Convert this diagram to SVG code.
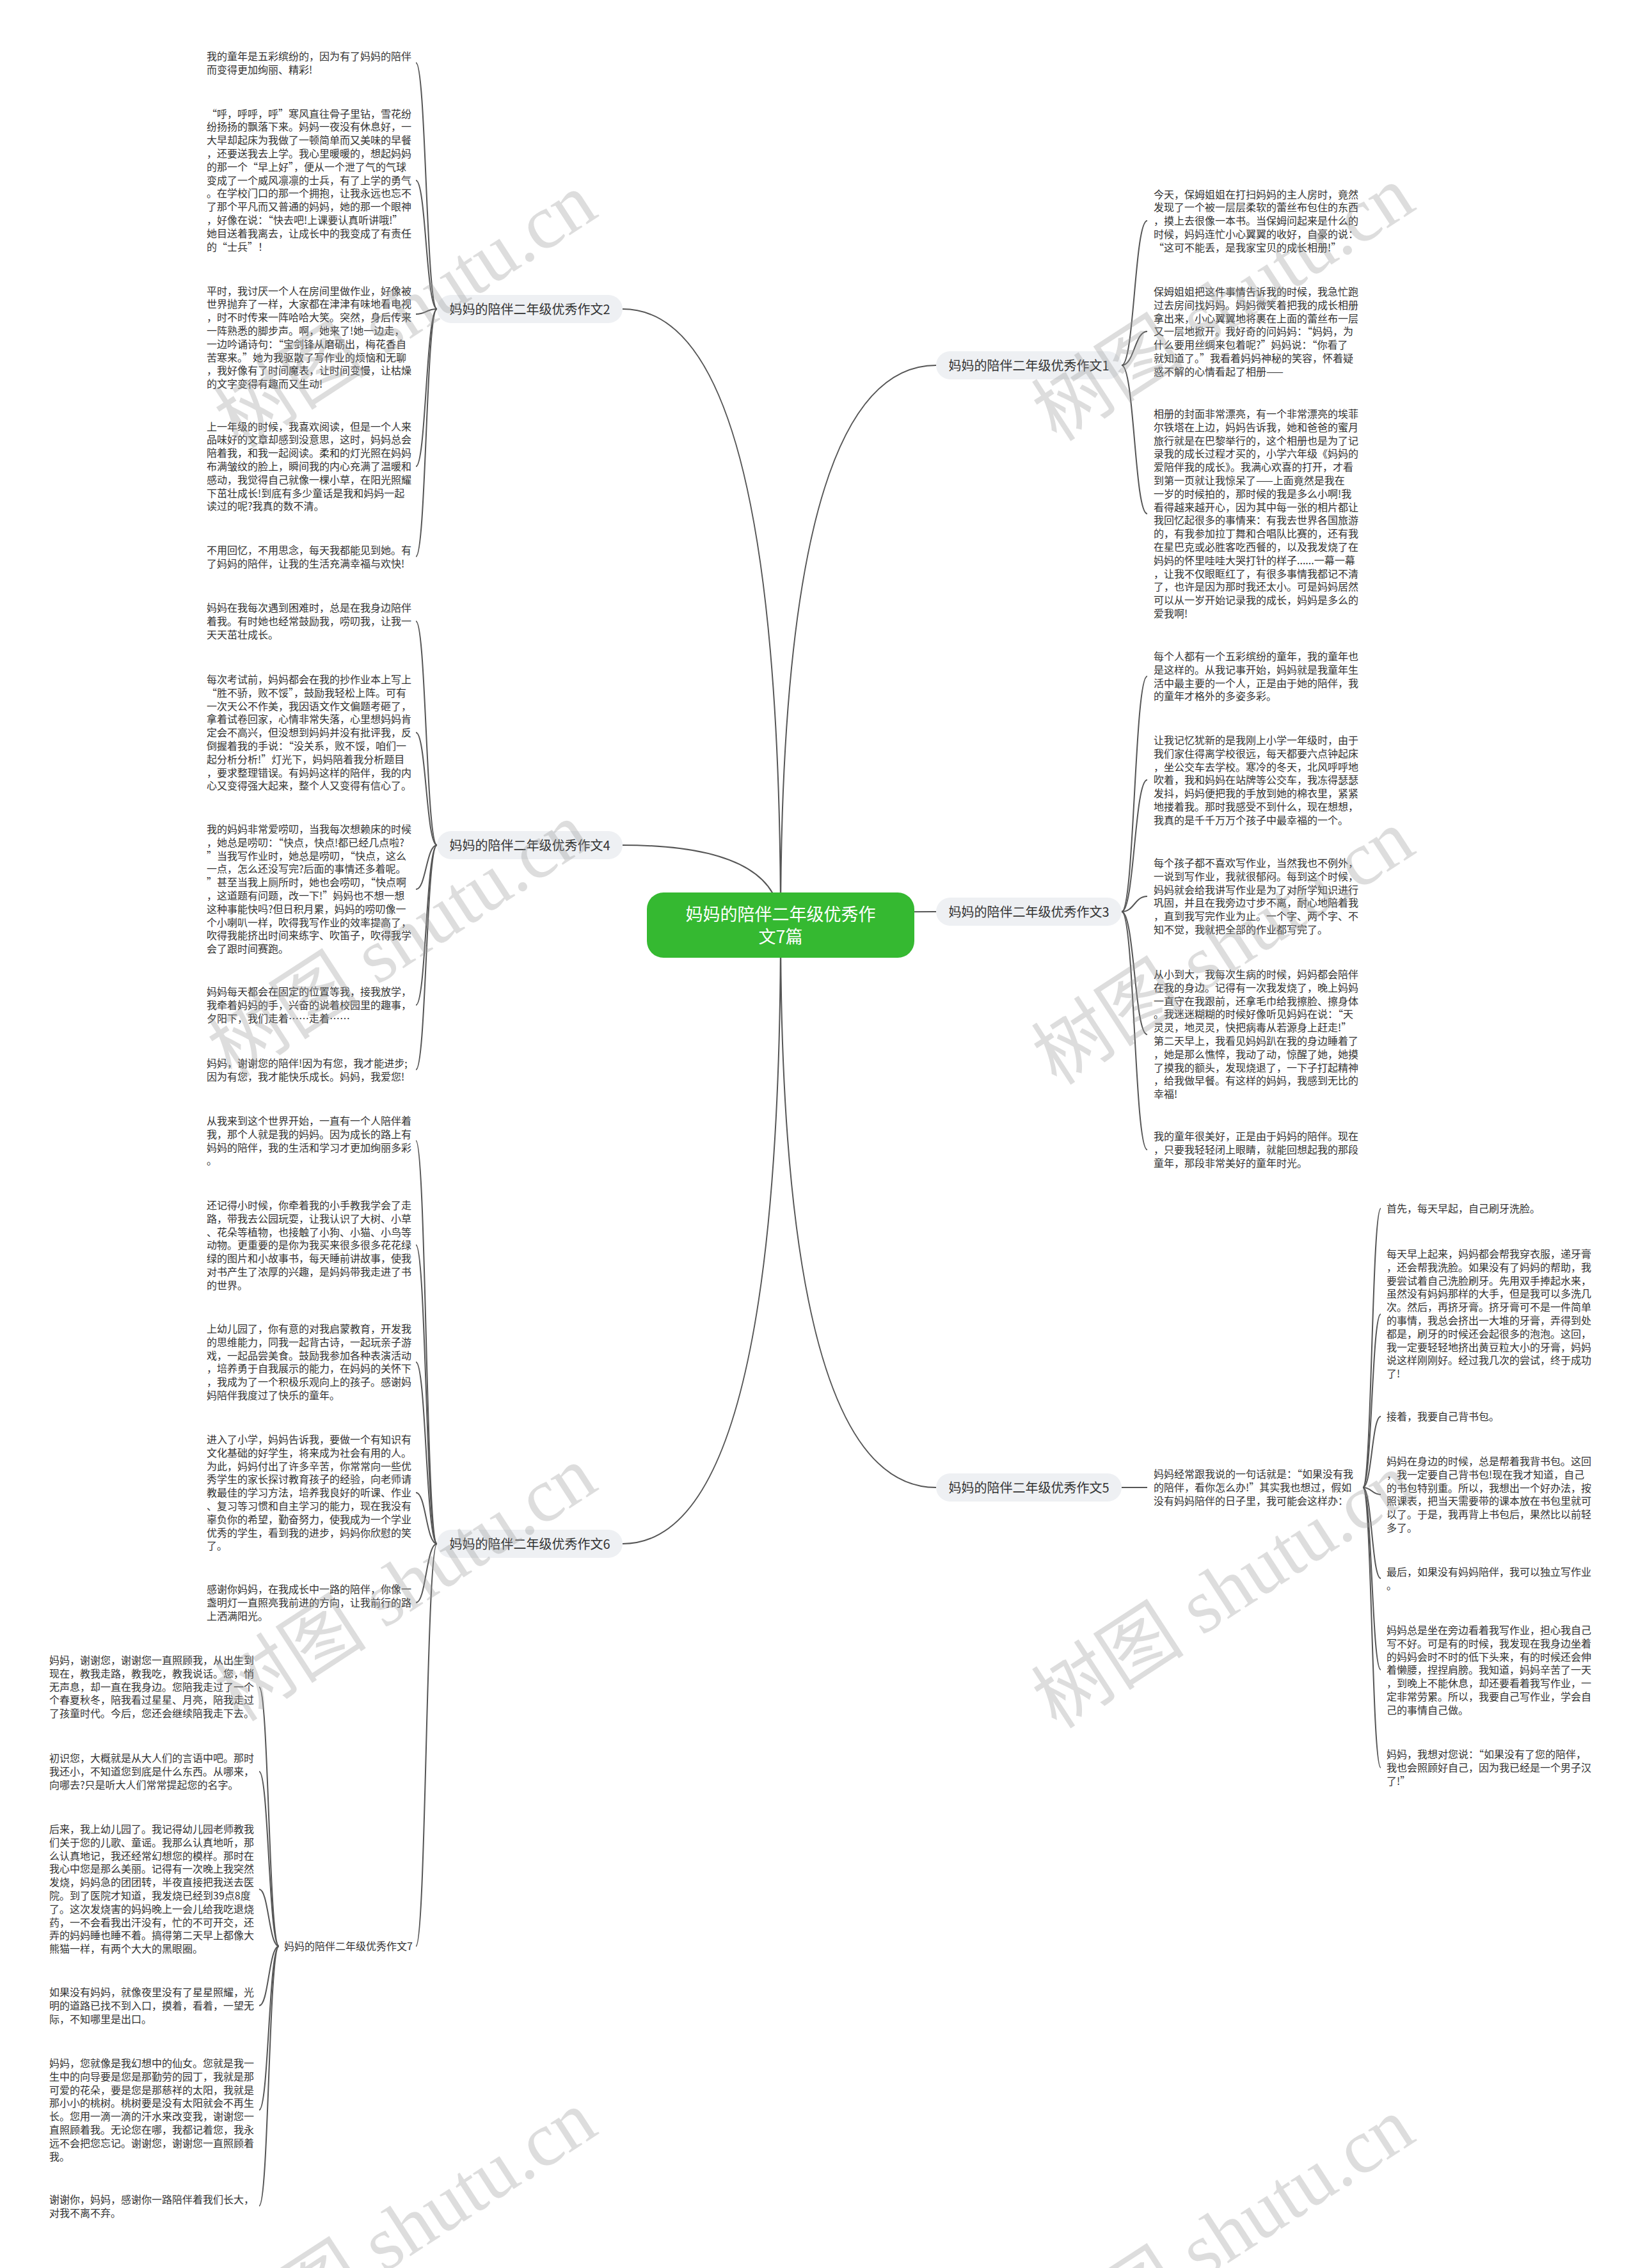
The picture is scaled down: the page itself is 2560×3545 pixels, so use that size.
<svg xmlns="http://www.w3.org/2000/svg" width="2560" height="3545" viewBox="0 0 2560 3545">
<style>
.t{font-family:"Noto Sans CJK SC","Noto Sans",sans-serif;font-size:16px;fill:#333}
.lb{font-family:"Noto Sans CJK SC","Noto Sans",sans-serif;font-size:20px;fill:#333;text-anchor:middle}
.lr{fill:#eef0f3}
.c{fill:none;stroke:#555;stroke-width:2}
.wm{font-family:"Liberation Serif","Noto Sans CJK SC",serif;font-size:120px;fill:#999;fill-opacity:0.33;text-anchor:middle}
</style>
<rect width="2560" height="3545" fill="#fff"/>
<g id="connectors">
<path class="c" d="M1220 1446 Q1220 571 1463 571"/>
<path class="c" d="M1220 1446 Q1220 483 973 483"/>
<path class="c" d="M1220 1446 Q1220 1425 1463 1425"/>
<path class="c" d="M1220 1446 Q1220 1321 973 1321"/>
<path class="c" d="M1220 1446 Q1220 2325 1463 2325"/>
<path class="c" d="M1220 1446 Q1220 2413 973 2413"/>
<path class="c" d="M683 483 C666 483 666 98 650 98"/>
<path class="c" d="M683 483 C666 483 666 282 650 282"/>
<path class="c" d="M683 483 C666 483 666 491 650 491"/>
<path class="c" d="M683 483 C666 483 666 729 650 729"/>
<path class="c" d="M683 483 C666 483 666 870 650 870"/>
<path class="c" d="M683 1321 C666 1321 666 971 650 971"/>
<path class="c" d="M683 1321 C666 1321 666 1145 650 1145"/>
<path class="c" d="M683 1321 C666 1321 666 1390 650 1390"/>
<path class="c" d="M683 1321 C666 1321 666 1571 650 1571"/>
<path class="c" d="M683 1321 C666 1321 666 1672 650 1672"/>
<path class="c" d="M683 2413 C666 2413 666 1783 650 1783"/>
<path class="c" d="M683 2413 C666 2413 666 1946 650 1946"/>
<path class="c" d="M683 2413 C666 2413 666 2129 650 2129"/>
<path class="c" d="M683 2413 C666 2413 666 2333 650 2333"/>
<path class="c" d="M683 2413 C666 2413 666 2505 650 2505"/>
<path class="c" d="M683 2413 C666 2413 666 3042 650 3042"/>
<path class="c" d="M436 3042 C420 3042 420 2637 405 2637"/>
<path class="c" d="M436 3042 C420 3042 420 2769 405 2769"/>
<path class="c" d="M436 3042 C420 3042 420 2953 405 2953"/>
<path class="c" d="M436 3042 C420 3042 420 3135 405 3135"/>
<path class="c" d="M436 3042 C420 3042 420 3298 405 3298"/>
<path class="c" d="M436 3042 C420 3042 420 3448 405 3448"/>
<path class="c" d="M1753 571 C1773 571 1773 345 1793 345"/>
<path class="c" d="M1753 571 C1773 571 1773 518 1793 518"/>
<path class="c" d="M1753 571 C1773 571 1773 803 1793 803"/>
<path class="c" d="M1753 1425 C1773 1425 1773 1057 1793 1057"/>
<path class="c" d="M1753 1425 C1773 1425 1773 1219 1793 1219"/>
<path class="c" d="M1753 1425 C1773 1425 1773 1401 1793 1401"/>
<path class="c" d="M1753 1425 C1773 1425 1773 1617 1793 1617"/>
<path class="c" d="M1753 1425 C1773 1425 1773 1797 1793 1797"/>
<path class="c" d="M1753 2325 L1793 2325"/>
<path class="c" d="M2130 2325 C2144 2325 2144 1889 2158 1889"/>
<path class="c" d="M2130 2325 C2144 2325 2144 2054 2158 2054"/>
<path class="c" d="M2130 2325 C2144 2325 2144 2214 2158 2214"/>
<path class="c" d="M2130 2325 C2144 2325 2144 2336 2158 2336"/>
<path class="c" d="M2130 2325 C2144 2325 2144 2467 2158 2467"/>
<path class="c" d="M2130 2325 C2144 2325 2144 2610 2158 2610"/>
<path class="c" d="M2130 2325 C2144 2325 2144 2763 2158 2763"/>
</g>
<g id="root">
<rect x="1011" y="1395" width="418" height="102" rx="26" fill="#35b931"/>
<text x="1220" y="1439" font-family="Noto Sans CJK SC,sans-serif" font-size="27" fill="#fff" text-anchor="middle">妈妈的陪伴二年级优秀作</text>
<text x="1220" y="1474" font-family="Noto Sans CJK SC,sans-serif" font-size="27" fill="#fff" text-anchor="middle">文7篇</text>
</g>
<g id="b1"><rect class="lr" x="1463" y="549" width="290" height="44" rx="22"/><text class="lb" x="1608" y="578.5">妈妈的陪伴二年级优秀作文1</text></g>
<g id="b2"><rect class="lr" x="683" y="461" width="290" height="44" rx="22"/><text class="lb" x="828" y="490.5">妈妈的陪伴二年级优秀作文2</text></g>
<g id="b3"><rect class="lr" x="1463" y="1403" width="290" height="44" rx="22"/><text class="lb" x="1608" y="1432.5">妈妈的陪伴二年级优秀作文3</text></g>
<g id="b4"><rect class="lr" x="683" y="1299" width="290" height="44" rx="22"/><text class="lb" x="828" y="1328.5">妈妈的陪伴二年级优秀作文4</text></g>
<g id="b5"><rect class="lr" x="1463" y="2303" width="290" height="44" rx="22"/><text class="lb" x="1608" y="2332.5">妈妈的陪伴二年级优秀作文5</text></g>
<g id="b6"><rect class="lr" x="683" y="2391" width="290" height="44" rx="22"/><text class="lb" x="828" y="2420.5">妈妈的陪伴二年级优秀作文6</text></g>
<g id="b7"><text class="t" x="645" y="3048" text-anchor="end">妈妈的陪伴二年级优秀作文7</text></g>

<g id="b2c1"><text class="t" y="94"><tspan x="323">我的童年是五彩缤纷的，因为有了妈妈的陪伴</tspan><tspan x="323" dy="20.8">而变得更加绚丽、精彩!</tspan></text></g>
<g id="b2c2"><text class="t" y="183.6"><tspan x="323">“呼，呼呼，呼”寒风直往骨子里钻，雪花纷</tspan><tspan x="323" dy="20.8">纷扬扬的飘落下来。妈妈一夜没有休息好，一</tspan><tspan x="323" dy="20.8">大早却起床为我做了一顿简单而又美味的早餐</tspan><tspan x="323" dy="20.8">，还要送我去上学。我心里暖暖的，想起妈妈</tspan><tspan x="323" dy="20.8">的那一个“早上好”，便从一个泄了气的气球</tspan><tspan x="323" dy="20.8">变成了一个威风凛凛的士兵，有了上学的勇气</tspan><tspan x="323" dy="20.8">。在学校门口的那一个拥抱，让我永远也忘不</tspan><tspan x="323" dy="20.8">了那个平凡而又普通的妈妈，她的那一个眼神</tspan><tspan x="323" dy="20.8">，好像在说：“快去吧!上课要认真听讲哦!”</tspan><tspan x="323" dy="20.8">她目送着我离去，让成长中的我变成了有责任</tspan><tspan x="323" dy="20.8">的“士兵”！</tspan></text></g>
<g id="b2c3"><text class="t" y="460.6"><tspan x="323">平时，我讨厌一个人在房间里做作业，好像被</tspan><tspan x="323" dy="20.8">世界抛弃了一样，大家都在津津有味地看电视</tspan><tspan x="323" dy="20.8">，时不时传来一阵哈哈大笑。突然，身后传来</tspan><tspan x="323" dy="20.8">一阵熟悉的脚步声。啊，她来了!她一边走，</tspan><tspan x="323" dy="20.8">一边吟诵诗句：“宝剑锋从磨砺出，梅花香自</tspan><tspan x="323" dy="20.8">苦寒来。”她为我驱散了写作业的烦恼和无聊</tspan><tspan x="323" dy="20.8">，我好像有了时间魔表，让时间变慢，让枯燥</tspan><tspan x="323" dy="20.8">的文字变得有趣而又生动!</tspan></text></g>
<g id="b2c4"><text class="t" y="672.6"><tspan x="323">上一年级的时候，我喜欢阅读，但是一个人来</tspan><tspan x="323" dy="20.8">品味好的文章却感到没意思，这时，妈妈总会</tspan><tspan x="323" dy="20.8">陪着我，和我一起阅读。柔和的灯光照在妈妈</tspan><tspan x="323" dy="20.8">布满皱纹的脸上，瞬间我的内心充满了温暖和</tspan><tspan x="323" dy="20.8">感动，我觉得自己就像一棵小草，在阳光照耀</tspan><tspan x="323" dy="20.8">下茁壮成长!到底有多少童话是我和妈妈一起</tspan><tspan x="323" dy="20.8">读过的呢?我真的数不清。</tspan></text></g>
<g id="b2c5"><text class="t" y="866"><tspan x="323">不用回忆，不用思念，每天我都能见到她。有</tspan><tspan x="323" dy="20.8">了妈妈的陪伴，让我的生活充满幸福与欢快!</tspan></text></g>

<g id="b4c1"><text class="t" y="956"><tspan x="323">妈妈在我每次遇到困难时，总是在我身边陪伴</tspan><tspan x="323" dy="20.8">着我。有时她也经常鼓励我，唠叨我，让我一</tspan><tspan x="323" dy="20.8">天天茁壮成长。</tspan></text></g>
<g id="b4c2"><text class="t" y="1068"><tspan x="323">每次考试前，妈妈都会在我的抄作业本上写上</tspan><tspan x="323" dy="20.8">“胜不骄，败不馁”，鼓励我轻松上阵。可有</tspan><tspan x="323" dy="20.8">一次天公不作美，我因语文作文偏题考砸了，</tspan><tspan x="323" dy="20.8">拿着试卷回家，心情非常失落，心里想妈妈肯</tspan><tspan x="323" dy="20.8">定会不高兴，但没想到妈妈并没有批评我，反</tspan><tspan x="323" dy="20.8">倒握着我的手说：“没关系，败不馁，咱们一</tspan><tspan x="323" dy="20.8">起分析分析!”灯光下，妈妈陪着我分析题目</tspan><tspan x="323" dy="20.8">，要求整理错误。有妈妈这样的陪伴，我的内</tspan><tspan x="323" dy="20.8">心又变得强大起来，整个人又变得有信心了。</tspan></text></g>
<g id="b4c3"><text class="t" y="1302"><tspan x="323">我的妈妈非常爱唠叨，当我每次想赖床的时候</tspan><tspan x="323" dy="20.8">，她总是唠叨：“快点，快点!都已经几点啦?</tspan><tspan x="323" dy="20.8">”当我写作业时，她总是唠叨，“快点，这么</tspan><tspan x="323" dy="20.8">一点，怎么还没写完?后面的事情还多着呢。</tspan><tspan x="323" dy="20.8">”甚至当我上厕所时，她也会唠叨，“快点啊</tspan><tspan x="323" dy="20.8">，这道题有问题，改一下!”妈妈也不想一想</tspan><tspan x="323" dy="20.8">这种事能快吗?但日积月累，妈妈的唠叨像一</tspan><tspan x="323" dy="20.8">个小喇叭一样，吹得我写作业的效率提高了，</tspan><tspan x="323" dy="20.8">吹得我能挤出时间来练字、吹笛子，吹得我学</tspan><tspan x="323" dy="20.8">会了跟时间赛跑。</tspan></text></g>
<g id="b4c4"><text class="t" y="1556"><tspan x="323">妈妈每天都会在固定的位置等我，接我放学，</tspan><tspan x="323" dy="20.8">我牵着妈妈的手，兴奋的说着校园里的趣事，</tspan><tspan x="323" dy="20.8">夕阳下，我们走着……走着……</tspan></text></g>
<g id="b4c5"><text class="t" y="1668"><tspan x="323">妈妈，谢谢您的陪伴!因为有您，我才能进步;</tspan><tspan x="323" dy="20.8">因为有您，我才能快乐成长。妈妈，我爱您!</tspan></text></g>

<g id="b6c1"><text class="t" y="1758"><tspan x="323">从我来到这个世界开始，一直有一个人陪伴着</tspan><tspan x="323" dy="20.8">我，那个人就是我的妈妈。因为成长的路上有</tspan><tspan x="323" dy="20.8">妈妈的陪伴，我的生活和学习才更加绚丽多彩</tspan><tspan x="323" dy="20.8">。</tspan></text></g>
<g id="b6c2"><text class="t" y="1890"><tspan x="323">还记得小时候，你牵着我的小手教我学会了走</tspan><tspan x="323" dy="20.8">路，带我去公园玩耍，让我认识了大树、小草</tspan><tspan x="323" dy="20.8">、花朵等植物，也接触了小狗、小猫、小鸟等</tspan><tspan x="323" dy="20.8">动物。更重要的是你为我买来很多很多花花绿</tspan><tspan x="323" dy="20.8">绿的图片和小故事书，每天睡前讲故事，使我</tspan><tspan x="323" dy="20.8">对书产生了浓厚的兴趣，是妈妈带我走进了书</tspan><tspan x="323" dy="20.8">的世界。</tspan></text></g>
<g id="b6c3"><text class="t" y="2083"><tspan x="323">上幼儿园了，你有意的对我启蒙教育，开发我</tspan><tspan x="323" dy="20.8">的思维能力，同我一起背古诗，一起玩亲子游</tspan><tspan x="323" dy="20.8">戏，一起品尝美食。鼓励我参加各种表演活动</tspan><tspan x="323" dy="20.8">，培养勇于自我展示的能力，在妈妈的关怀下</tspan><tspan x="323" dy="20.8">，我成为了一个积极乐观向上的孩子。感谢妈</tspan><tspan x="323" dy="20.8">妈陪伴我度过了快乐的童年。</tspan></text></g>
<g id="b6c4"><text class="t" y="2256"><tspan x="323">进入了小学，妈妈告诉我，要做一个有知识有</tspan><tspan x="323" dy="20.8">文化基础的好学生，将来成为社会有用的人。</tspan><tspan x="323" dy="20.8">为此，妈妈付出了许多辛苦，你常常向一些优</tspan><tspan x="323" dy="20.8">秀学生的家长探讨教育孩子的经验，向老师请</tspan><tspan x="323" dy="20.8">教最佳的学习方法，培养我良好的听课、作业</tspan><tspan x="323" dy="20.8">、复习等习惯和自主学习的能力，现在我没有</tspan><tspan x="323" dy="20.8">辜负你的希望，勤奋努力，使我成为一个学业</tspan><tspan x="323" dy="20.8">优秀的学生，看到我的进步，妈妈你欣慰的笑</tspan><tspan x="323" dy="20.8">了。</tspan></text></g>
<g id="b6c5"><text class="t" y="2490"><tspan x="323">感谢你妈妈，在我成长中一路的陪伴，你像一</tspan><tspan x="323" dy="20.8">盏明灯一直照亮我前进的方向，让我前行的路</tspan><tspan x="323" dy="20.8">上洒满阳光。</tspan></text></g>

<g id="b7c1"><text class="t" y="2601"><tspan x="77">妈妈，谢谢您，谢谢您一直照顾我，从出生到</tspan><tspan x="77" dy="20.8">现在，教我走路，教我吃，教我说话。您，悄</tspan><tspan x="77" dy="20.8">无声息，却一直在我身边。您陪我走过了一个</tspan><tspan x="77" dy="20.8">个春夏秋冬，陪我看过星星、月亮，陪我走过</tspan><tspan x="77" dy="20.8">了孩童时代。今后，您还会继续陪我走下去。</tspan></text></g>
<g id="b7c2"><text class="t" y="2754"><tspan x="77">初识您，大概就是从大人们的言语中吧。那时</tspan><tspan x="77" dy="20.8">我还小，不知道您到底是什么东西。从哪来，</tspan><tspan x="77" dy="20.8">向哪去?只是听大人们常常提起您的名字。</tspan></text></g>
<g id="b7c3"><text class="t" y="2865"><tspan x="77">后来，我上幼儿园了。我记得幼儿园老师教我</tspan><tspan x="77" dy="20.8">们关于您的儿歌、童谣。我那么认真地听，那</tspan><tspan x="77" dy="20.8">么认真地记，我还经常幻想您的模样。那时在</tspan><tspan x="77" dy="20.8">我心中您是那么美丽。记得有一次晚上我突然</tspan><tspan x="77" dy="20.8">发烧，妈妈急的团团转，半夜直接把我送去医</tspan><tspan x="77" dy="20.8">院。到了医院才知道，我发烧已经到39点8度</tspan><tspan x="77" dy="20.8">了。这次发烧害的妈妈晚上一会儿给我吃退烧</tspan><tspan x="77" dy="20.8">药，一不会看我出汗没有，忙的不可开交，还</tspan><tspan x="77" dy="20.8">弄的妈妈睡也睡不着。搞得第二天早上都像大</tspan><tspan x="77" dy="20.8">熊猫一样，有两个大大的黑眼圈。</tspan></text></g>
<g id="b7c4"><text class="t" y="3120"><tspan x="77">如果没有妈妈，就像夜里没有了星星照耀，光</tspan><tspan x="77" dy="20.8">明的道路已找不到入口，摸着，看着，一望无</tspan><tspan x="77" dy="20.8">际，不知哪里是出口。</tspan></text></g>
<g id="b7c5"><text class="t" y="3231"><tspan x="77">妈妈，您就像是我幻想中的仙女。您就是我一</tspan><tspan x="77" dy="20.8">生中的向导要是您是那勤劳的园丁，我就是那</tspan><tspan x="77" dy="20.8">可爱的花朵，要是您是那慈祥的太阳，我就是</tspan><tspan x="77" dy="20.8">那小小的桃树。桃树要是没有太阳就会不再生</tspan><tspan x="77" dy="20.8">长。您用一滴一滴的汗水来改变我，谢谢您一</tspan><tspan x="77" dy="20.8">直照顾着我。无论您在哪，我都记着您，我永</tspan><tspan x="77" dy="20.8">远不会把您忘记。谢谢您，谢谢您一直照顾着</tspan><tspan x="77" dy="20.8">我。</tspan></text></g>
<g id="b7c6"><text class="t" y="3444"><tspan x="77">谢谢你，妈妈，感谢你一路陪伴着我们长大，</tspan><tspan x="77" dy="20.8">对我不离不弃。</tspan></text></g>

<g id="b1c1"><text class="t" y="309.5"><tspan x="1803">今天，保姆姐姐在打扫妈妈的主人房时，竟然</tspan><tspan x="1803" dy="20.8">发现了一个被一层层柔软的蕾丝布包住的东西</tspan><tspan x="1803" dy="20.8">，摸上去很像一本书。当保姆问起来是什么的</tspan><tspan x="1803" dy="20.8">时候，妈妈连忙小心翼翼的收好，自豪的说：</tspan><tspan x="1803" dy="20.8">“这可不能丢，是我家宝贝的成长相册!”</tspan></text></g>
<g id="b1c2"><text class="t" y="462"><tspan x="1803">保姆姐姐把这件事情告诉我的时候，我急忙跑</tspan><tspan x="1803" dy="20.8">过去房间找妈妈。妈妈微笑着把我的成长相册</tspan><tspan x="1803" dy="20.8">拿出来，小心翼翼地将裹在上面的蕾丝布一层</tspan><tspan x="1803" dy="20.8">又一层地掀开。我好奇的问妈妈：“妈妈，为</tspan><tspan x="1803" dy="20.8">什么要用丝绸来包着呢?”妈妈说：“你看了</tspan><tspan x="1803" dy="20.8">就知道了。”我看着妈妈神秘的笑容，怀着疑</tspan><tspan x="1803" dy="20.8">惑不解的心情看起了相册——</tspan></text></g>
<g id="b1c3"><text class="t" y="653"><tspan x="1803">相册的封面非常漂亮，有一个非常漂亮的埃菲</tspan><tspan x="1803" dy="20.8">尔铁塔在上边，妈妈告诉我，她和爸爸的蜜月</tspan><tspan x="1803" dy="20.8">旅行就是在巴黎举行的，这个相册也是为了记</tspan><tspan x="1803" dy="20.8">录我的成长过程才买的，小学六年级《妈妈的</tspan><tspan x="1803" dy="20.8">爱陪伴我的成长》。我满心欢喜的打开，才看</tspan><tspan x="1803" dy="20.8">到第一页就让我惊呆了——上面竟然是我在</tspan><tspan x="1803" dy="20.8">一岁的时候拍的，那时候的我是多么小啊!我</tspan><tspan x="1803" dy="20.8">看得越来越开心，因为其中每一张的相片都让</tspan><tspan x="1803" dy="20.8">我回忆起很多的事情来：有我去世界各国旅游</tspan><tspan x="1803" dy="20.8">的，有我参加拉丁舞和合唱队比赛的，还有我</tspan><tspan x="1803" dy="20.8">在星巴克或必胜客吃西餐的，以及我发烧了在</tspan><tspan x="1803" dy="20.8">妈妈的怀里哇哇大哭打针的样子......一幕一幕</tspan><tspan x="1803" dy="20.8">，让我不仅眼眶红了，有很多事情我都记不清</tspan><tspan x="1803" dy="20.8">了，也许是因为那时我还太小。可是妈妈居然</tspan><tspan x="1803" dy="20.8">可以从一岁开始记录我的成长，妈妈是多么的</tspan><tspan x="1803" dy="20.8">爱我啊!</tspan></text></g>

<g id="b3c1"><text class="t" y="1032"><tspan x="1803">每个人都有一个五彩缤纷的童年，我的童年也</tspan><tspan x="1803" dy="20.8">是这样的。从我记事开始，妈妈就是我童年生</tspan><tspan x="1803" dy="20.8">活中最主要的一个人，正是由于她的陪伴，我</tspan><tspan x="1803" dy="20.8">的童年才格外的多姿多彩。</tspan></text></g>
<g id="b3c2"><text class="t" y="1163"><tspan x="1803">让我记忆犹新的是我刚上小学一年级时，由于</tspan><tspan x="1803" dy="20.8">我们家住得离学校很远，每天都要六点钟起床</tspan><tspan x="1803" dy="20.8">，坐公交车去学校。寒冷的冬天，北风呼呼地</tspan><tspan x="1803" dy="20.8">吹着，我和妈妈在站牌等公交车，我冻得瑟瑟</tspan><tspan x="1803" dy="20.8">发抖，妈妈便把我的手放到她的棉衣里，紧紧</tspan><tspan x="1803" dy="20.8">地搂着我。那时我感受不到什么，现在想想，</tspan><tspan x="1803" dy="20.8">我真的是千千万万个孩子中最幸福的一个。</tspan></text></g>
<g id="b3c3"><text class="t" y="1355"><tspan x="1803">每个孩子都不喜欢写作业，当然我也不例外，</tspan><tspan x="1803" dy="20.8">一说到写作业，我就很郁闷。每到这个时候，</tspan><tspan x="1803" dy="20.8">妈妈就会给我讲写作业是为了对所学知识进行</tspan><tspan x="1803" dy="20.8">巩固，并且在我旁边寸步不离，耐心地陪着我</tspan><tspan x="1803" dy="20.8">，直到我写完作业为止。一个字、两个字、不</tspan><tspan x="1803" dy="20.8">知不觉，我就把全部的作业都写完了。</tspan></text></g>
<g id="b3c4"><text class="t" y="1529"><tspan x="1803">从小到大，我每次生病的时候，妈妈都会陪伴</tspan><tspan x="1803" dy="20.8">在我的身边。记得有一次我发烧了，晚上妈妈</tspan><tspan x="1803" dy="20.8">一直守在我跟前，还拿毛巾给我擦脸、擦身体</tspan><tspan x="1803" dy="20.8">。我迷迷糊糊的时候好像听见妈妈在说：“天</tspan><tspan x="1803" dy="20.8">灵灵，地灵灵，快把病毒从若源身上赶走!”</tspan><tspan x="1803" dy="20.8">第二天早上，我看见妈妈趴在我的身边睡着了</tspan><tspan x="1803" dy="20.8">，她是那么憔悴，我动了动，惊醒了她，她摸</tspan><tspan x="1803" dy="20.8">了摸我的额头，发现烧退了，一下子打起精神</tspan><tspan x="1803" dy="20.8">，给我做早餐。有这样的妈妈，我感到无比的</tspan><tspan x="1803" dy="20.8">幸福!</tspan></text></g>
<g id="b3c5"><text class="t" y="1782"><tspan x="1803">我的童年很美好，正是由于妈妈的陪伴。现在</tspan><tspan x="1803" dy="20.8">，只要我轻轻闭上眼睛，就能回想起我的那段</tspan><tspan x="1803" dy="20.8">童年，那段非常美好的童年时光。</tspan></text></g>

<g id="b5c1"><text class="t" y="2310"><tspan x="1803">妈妈经常跟我说的一句话就是：“如果没有我</tspan><tspan x="1803" dy="20.8">的陪伴，看你怎么办!”其实我也想过，假如</tspan><tspan x="1803" dy="20.8">没有妈妈陪伴的日子里，我可能会这样办：</tspan></text></g>
<g id="b5g1"><text class="t" y="1895"><tspan x="2167">首先，每天早起，自己刷牙洗脸。</tspan></text></g>
<g id="b5g2"><text class="t" y="1966"><tspan x="2167">每天早上起来，妈妈都会帮我穿衣服，递牙膏</tspan><tspan x="2167" dy="20.8">，还会帮我洗脸。如果没有了妈妈的帮助，我</tspan><tspan x="2167" dy="20.8">要尝试着自己洗脸刷牙。先用双手捧起水来，</tspan><tspan x="2167" dy="20.8">虽然没有妈妈那样的大手，但是我可以多洗几</tspan><tspan x="2167" dy="20.8">次。然后，再挤牙膏。挤牙膏可不是一件简单</tspan><tspan x="2167" dy="20.8">的事情，我总会挤出一大堆的牙膏，弄得到处</tspan><tspan x="2167" dy="20.8">都是，刷牙的时候还会起很多的泡泡。这回，</tspan><tspan x="2167" dy="20.8">我一定要轻轻地挤出黄豆粒大小的牙膏，妈妈</tspan><tspan x="2167" dy="20.8">说这样刚刚好。经过我几次的尝试，终于成功</tspan><tspan x="2167" dy="20.8">了!</tspan></text></g>
<g id="b5g3"><text class="t" y="2220"><tspan x="2167">接着，我要自己背书包。</tspan></text></g>
<g id="b5g4"><text class="t" y="2290"><tspan x="2167">妈妈在身边的时候，总是帮着我背书包。这回</tspan><tspan x="2167" dy="20.8">，我一定要自己背书包!现在我才知道，自己</tspan><tspan x="2167" dy="20.8">的书包特别重。所以，我想出一个好办法，按</tspan><tspan x="2167" dy="20.8">照课表，把当天需要带的课本放在书包里就可</tspan><tspan x="2167" dy="20.8">以了。于是，我再背上书包后，果然比以前轻</tspan><tspan x="2167" dy="20.8">多了。</tspan></text></g>
<g id="b5g5"><text class="t" y="2463"><tspan x="2167">最后，如果没有妈妈陪伴，我可以独立写作业</tspan><tspan x="2167" dy="20.8">。</tspan></text></g>
<g id="b5g6"><text class="t" y="2554"><tspan x="2167">妈妈总是坐在旁边看着我写作业，担心我自己</tspan><tspan x="2167" dy="20.8">写不好。可是有的时候，我发现在我身边坐着</tspan><tspan x="2167" dy="20.8">的妈妈会时不时的低下头来，有的时候还会伸</tspan><tspan x="2167" dy="20.8">着懒腰，捏捏肩膀。我知道，妈妈辛苦了一天</tspan><tspan x="2167" dy="20.8">，到晚上不能休息，却还要看着我写作业，一</tspan><tspan x="2167" dy="20.8">定非常劳累。所以，我要自己写作业，学会自</tspan><tspan x="2167" dy="20.8">己的事情自己做。</tspan></text></g>
<g id="b5g7"><text class="t" y="2748"><tspan x="2167">妈妈，我想对您说：“如果没有了您的陪伴，</tspan><tspan x="2167" dy="20.8">我也会照顾好自己，因为我已经是一个男子汉</tspan><tspan x="2167" dy="20.8">了!”</tspan></text></g>

<g id="watermarks">
<text class="wm" transform="translate(656 520) rotate(-33)">树图 shutu.cn</text>
<text class="wm" transform="translate(1934 509) rotate(-33)">树图 shutu.cn</text>
<text class="wm" transform="translate(645 1504) rotate(-33)">树图 shutu.cn</text>
<text class="wm" transform="translate(1934 1515) rotate(-33)">树图 shutu.cn</text>
<text class="wm" transform="translate(656 2510) rotate(-33)">树图 shutu.cn</text>
<text class="wm" transform="translate(1934 2521) rotate(-33)">树图 shutu.cn</text>
<text class="wm" transform="translate(656 3517) rotate(-33)">树图 shutu.cn</text>
<text class="wm" transform="translate(1934 3528) rotate(-33)">树图 shutu.cn</text>
</g>
</svg>
